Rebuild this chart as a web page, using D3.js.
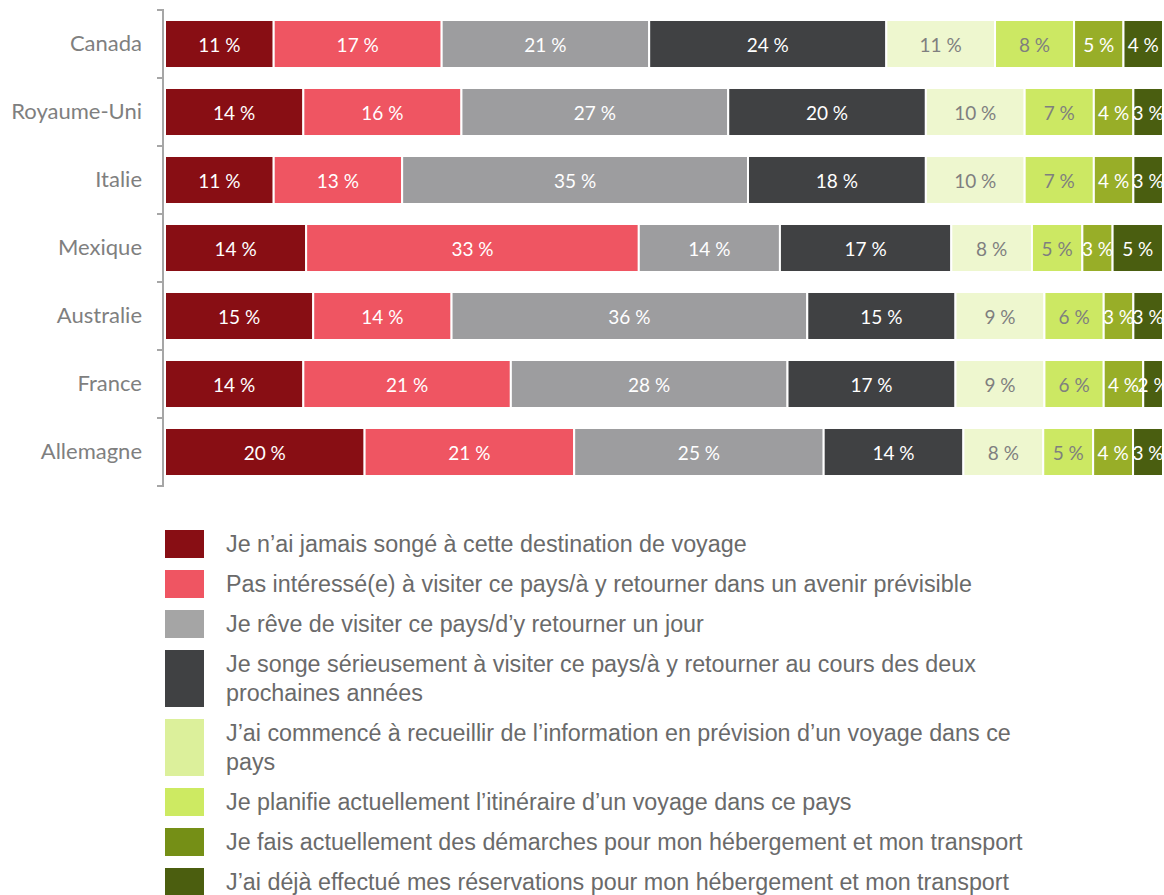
<!DOCTYPE html>
<html><head><meta charset="utf-8">
<script src="https://cdn.jsdelivr.net/npm/d3@7"></script>
<style>body{margin:0;background:#fff}svg{display:block}</style>
</head><body><svg id="c" width="1164" height="895"></svg>
<script>
const countries = ["Canada","Royaume-Uni","Italie","Mexique","Australie","France","Allemagne"];
const seriesNames = [
 "Je n’ai jamais songé à cette destination de voyage",
 "Pas intéressé(e) à visiter ce pays/à y retourner dans un avenir prévisible",
 "Je rêve de visiter ce pays/d’y retourner un jour",
 "Je songe sérieusement à visiter ce pays/à y retourner au cours des deux prochaines années",
 "J’ai commencé à recueillir de l’information en prévision d’un voyage dans ce pays",
 "Je planifie actuellement l’itinéraire d’un voyage dans ce pays",
 "Je fais actuellement des démarches pour mon hébergement et mon transport",
 "J’ai déjà effectué mes réservations pour mon hébergement et mon transport"
];
const s1 = [11,14,11,14,15,14,20];
const s2 = [17,16,13,33,14,21,21];
const s3 = [21,27,35,14,36,28,25];
const s4 = [24,20,18,17,15,17,14];
const s5 = [11,10,10,8,9,9,8];
const s6 = [8,7,7,5,6,6,5];
const s7 = [5,4,4,3,3,4,4];
const s8 = [4,3,3,5,3,2,3];
const seriesValues = [s1,s2,s3,s4,s5,s6,s7,s8];
const barColors = ["#880e14","#ef5562","#9d9d9f","#404143","#eef7cf","#cce863","#98ae28","#4a5e10"];
const legendColors = ["#880e14","#ef5562","#a5a5a5","#404143","#dcf09b","#cdea62","#758f16","#4b5e0f"];
const labelColors = ["#fff","#fff","#fff","#fff","#7f7f7f","#7f7f7f","#fff","#fff"];

const rows = countries.map((c,i)=>{const o={country:c}; seriesValues.forEach((s,j)=>o["k"+j]=s[i]); return o;});
const keys = seriesValues.map((_,j)=>"k"+j);
const stacked = d3.stack().keys(keys).offset(d3.stackOffsetExpand)(rows);

const svg = d3.select("#c");
const x = d3.scaleLinear().domain([0,1]).range([165,1163]);
const y = d3.scaleBand().domain(countries).range([10,486]).paddingInner(0.294).paddingOuter(0.147);

// axis
const ax = svg.append("g").attr("transform","translate(163,0)")
  .call(d3.axisLeft(y).tickSize(0).tickPadding(21));
ax.select(".domain").attr("stroke","#a6a6a6").attr("stroke-width",2).attr("d","M0,10V486");
ax.selectAll("text").attr("font-family","Lato, sans-serif").attr("font-size",22).attr("fill","#7f7f7f");
// tick marks at band boundaries
const bounds = countries.map(c=>y(c)-y.step()*y.paddingInner()/2).concat([486]);
bounds[0]=10;
svg.append("g").selectAll("line").data(bounds).join("line")
  .attr("x1",157).attr("x2",164).attr("y1",d=>d).attr("y2",d=>d)
  .attr("stroke","#a6a6a6").attr("stroke-width",2);

const g = svg.append("g");
stacked.forEach((layer,j)=>{
  const lg = g.append("g");
  lg.selectAll("rect").data(layer).join("rect")
    .attr("x",d=>x(d[0])).attr("width",d=>x(d[1])-x(d[0]))
    .attr("y",d=>y(d.data.country)).attr("height",y.bandwidth())
    .attr("fill",barColors[j]).attr("stroke","#fff").attr("stroke-width",2);
  lg.selectAll("text").data(layer).join("text")
    .attr("x",d=>(x(d[0])+x(d[1]))/2).attr("y",d=>y(d.data.country)+y.bandwidth()/2)
    .attr("text-anchor","middle").attr("dominant-baseline","central")
    .attr("font-family","Lato, sans-serif").attr("font-size",19)
    .attr("fill",labelColors[j])
    .text(d=>d.data["k"+j]+" %");
});

// legend
const lgd = svg.append("g");
let yy = 530;
const wrapW = 815;
const LF = "Liberation Sans, Arial, sans-serif", LS = 23.3;
seriesNames.forEach((name,j)=>{
  const t = lgd.append("text").attr("x",226).attr("font-family",LF)
    .attr("font-size",LS).attr("fill","#6a6a6a");
  const words = name.split(" ");
  let lines=[], cur="";
  const tmp = lgd.append("text").attr("font-family",LF).attr("font-size",LS);
  words.forEach(w=>{
    const test = cur?cur+" "+w:w;
    tmp.text(test);
    if(tmp.node().getComputedTextLength()>wrapW && cur){lines.push(cur);cur=w;} else cur=test;
  });
  lines.push(cur); tmp.remove();
  const h = lines.length===1?28:57;
  lgd.append("rect").attr("x",165).attr("y",yy).attr("width",39).attr("height",h).attr("fill",legendColors[j]);
  lines.forEach((l,i)=>t.append("tspan").attr("x",226).attr("y",yy+22+i*29).text(l));
  yy += h+12;
});
</script></body></html>
